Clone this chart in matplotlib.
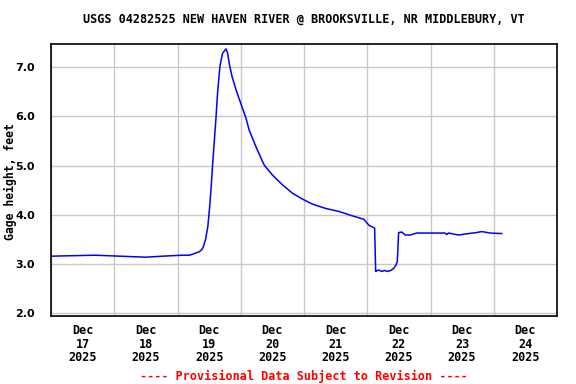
import matplotlib
matplotlib.use("Agg")
import matplotlib.pyplot as plt
import matplotlib.dates as mdates
import numpy as np

# hours since 2025-12-17 00:00, gage height in feet
hours = [0, 16.6, 35.9, 42.3, 49.9, 52.5, 53.7, 56.3, 57.3, 57.8, 58.6, 59.5,
         60.1, 60.7, 61.3, 62.0, 62.6, 63.2, 64.1, 65.1, 66.4, 67.0, 67.7,
         68.7, 70.2, 72.1, 74.0, 75.2, 77.7, 80.9, 84.0, 87.8, 91.6, 95.4,
         99.1, 104.2, 109.2, 114.3, 118.7, 120.6, 122.8, 123.2, 124.3, 125.5,
         126.6, 127.7, 128.9, 130.0, 130.9, 131.4, 131.9, 133.2, 134.4, 136.3,
         138.8, 149.5, 150.2, 150.8, 154.6, 157.1, 161.5, 163.4, 166.6, 171.0]
gage = [3.16, 3.18, 3.14, 3.16, 3.18, 3.18, 3.20, 3.25, 3.30, 3.35, 3.49, 3.76,
        4.10, 4.50, 5.01, 5.52, 5.97, 6.47, 7.01, 7.28, 7.37, 7.29, 7.05,
        6.81, 6.54, 6.25, 5.96, 5.72, 5.39, 5.01, 4.81, 4.61, 4.44, 4.32,
        4.22, 4.13, 4.07, 3.98, 3.91, 3.79, 3.73, 2.85, 2.88, 2.85,
        2.87, 2.85, 2.87, 2.91, 2.98, 3.05, 3.64, 3.65, 3.59, 3.59,
        3.63, 3.63, 3.60, 3.63, 3.59, 3.61, 3.64, 3.66, 3.63, 3.62]
yticks = [2, 3, 4, 5, 6, 7]
ytick_labels = ["2.0", "3.0", "4.0", "5.0", "6.0", "7.0"]

title = "USGS 04282525 NEW HAVEN RIVER @ BROOKSVILLE, NR MIDDLEBURY, VT"
start = np.datetime64("2025-12-17T00:00")
times = start + (np.array(hours) * 60).astype("timedelta64[m]")

plt.rcParams['font.family'] = 'DejaVu Sans Mono'
plt.rcParams['font.weight'] = 'bold'
plt.rcParams['font.size'] = 8.5

fig = plt.figure(figsize=(5.76, 3.84), dpi=100)
ax = fig.add_axes([51/576, 1 - 316/384, 506/576, 272/384])

ax.plot(times, gage, color="#0000ff", linewidth=1.1)

ax.set_xlim(start, np.datetime64("2025-12-25T00:00"))
ax.set_ylim(1.945, 7.47)
ax.set_yticks(yticks)
ax.set_yticklabels(ytick_labels, family=["Liberation Sans Narrow", "DejaVu Sans"],
                   fontsize=8, fontweight="bold")

# gridlines at midnight, labels at noon
ax.xaxis.set_major_locator(mdates.DayLocator())
ax.xaxis.set_major_formatter(plt.NullFormatter())
ax.xaxis.set_minor_locator(mdates.HourLocator(byhour=12))
ax.xaxis.set_minor_formatter(mdates.DateFormatter("%b\n%d\n%Y"))
ax.tick_params(axis="x", which="both", length=0, pad=6)
ax.tick_params(axis="y", length=0, pad=11.5)
for lbl in ax.get_xticklabels(minor=True):
    lbl.set_linespacing(1.05)

ax.grid(True, which="major", color="#c8c8c8", linewidth=1)
for s in ax.spines.values():
    s.set_linewidth(1.2)
    s.set_color("black")

fig.text(10/576, 1 - 182/384, "Gage height, feet", rotation=90,
         ha="center", va="center", fontsize=8.3)
fig.text(0.528, 1 - 19/384, title, ha="center", va="center")
fig.text(0.528, 1 - 376/384, "---- Provisional Data Subject to Revision ----",
         ha="center", va="center", color="red")

fig.savefig("out.png", dpi=100)
